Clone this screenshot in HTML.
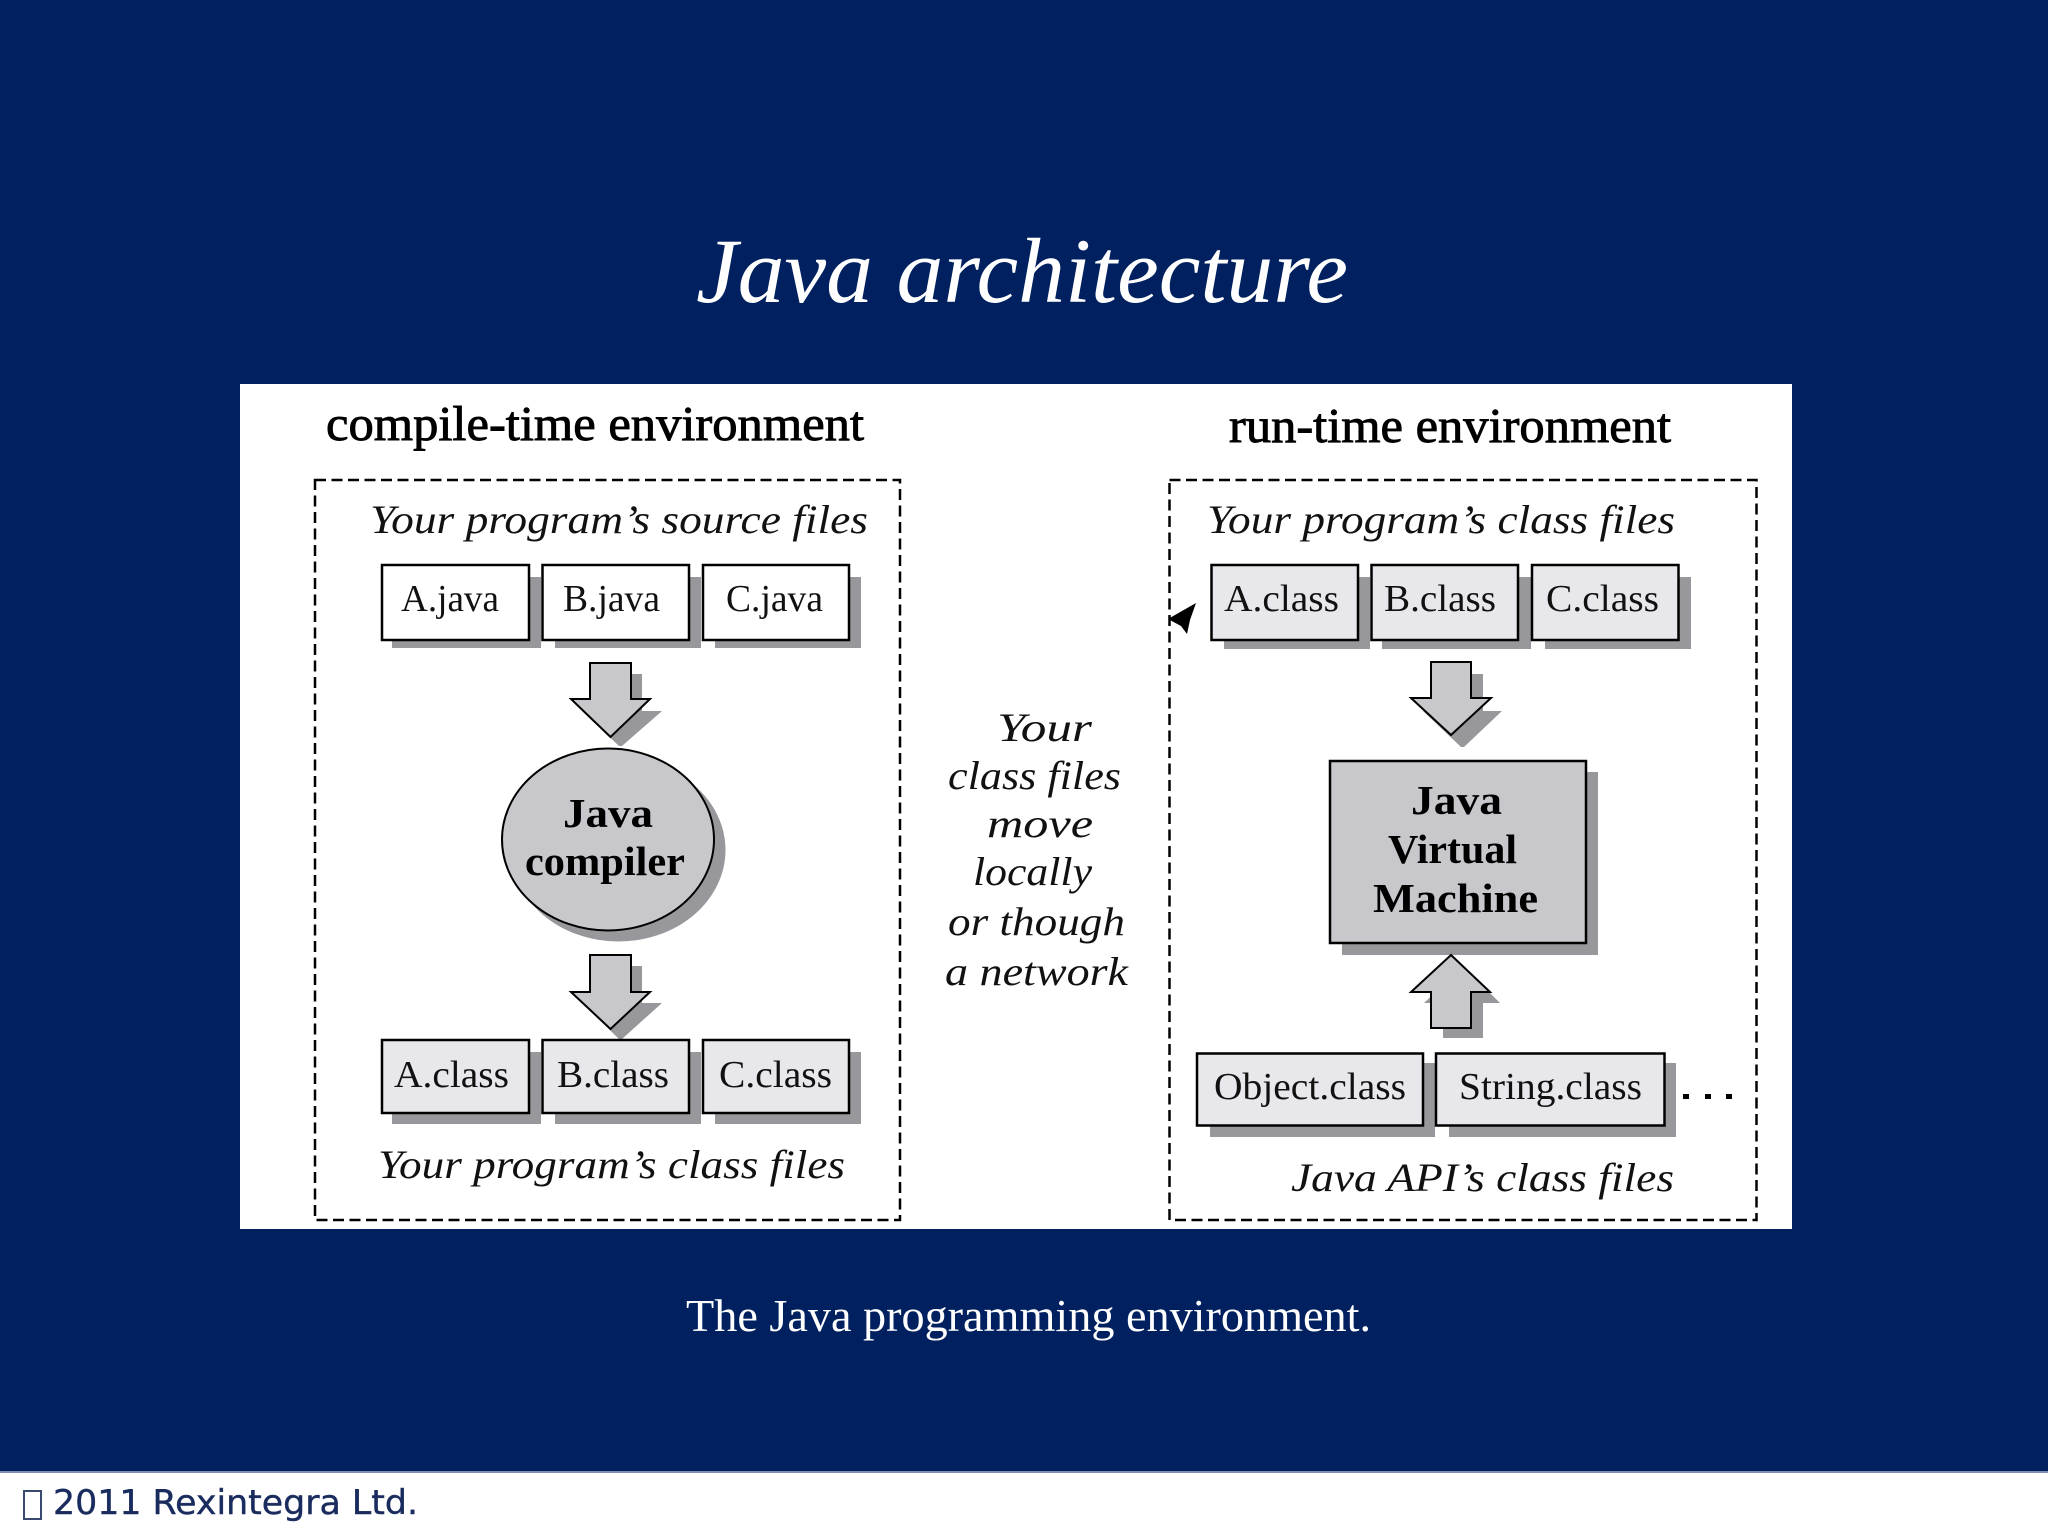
<!DOCTYPE html>
<html>
<head>
<meta charset="utf-8">
<title>Java architecture</title>
<style>
html,body{margin:0;padding:0;background:#012060;width:2048px;height:1536px;overflow:hidden}
svg{display:block}
.s{font-family:"Liberation Serif",serif}
.i{font-family:"Liberation Serif",serif;font-style:italic;font-size:40px;fill:#111}
.b{font-family:"Liberation Serif",serif;font-size:38px;fill:#111}
.h{font-family:"Liberation Serif",serif;font-size:49px;fill:#000;stroke:#000;stroke-width:.9px}
.l{font-family:"Liberation Serif",serif;font-weight:bold;font-size:41px;fill:#000}
</style>
</head>
<body>
<svg width="2048" height="1536" viewBox="0 0 2048 1536" xmlns="http://www.w3.org/2000/svg">
<rect width="2048" height="1536" fill="#012060"/>
<text x="696" y="302" class="s" font-style="italic" font-size="92" fill="#fff" textLength="652" lengthAdjust="spacingAndGlyphs">Java architecture</text>

<rect x="240" y="384" width="1552" height="845" fill="#fff"/>

<text x="326" y="440" class="h" textLength="538" lengthAdjust="spacingAndGlyphs">compile-time environment</text>
<text x="1229" y="442" class="h" textLength="442" lengthAdjust="spacingAndGlyphs">run-time environment</text>

<rect x="315" y="480" width="585" height="740" fill="none" stroke="#000" stroke-width="2.500" stroke-dasharray="11 5.5"/>
<rect x="1169.500" y="480" width="587" height="740" fill="none" stroke="#000" stroke-width="2.500" stroke-dasharray="11 5.5"/>

<text x="370" y="533" class="i" textLength="498" lengthAdjust="spacingAndGlyphs">Your program’s source files</text>
<text x="1207" y="533" class="i" textLength="468" lengthAdjust="spacingAndGlyphs">Your program’s class files</text>
<text x="378" y="1178" class="i" textLength="467" lengthAdjust="spacingAndGlyphs">Your program’s class files</text>
<text x="1291" y="1191" class="i" textLength="383" lengthAdjust="spacingAndGlyphs">Java API’s class files</text>

<!-- shadows -->
<g fill="#98979b">
<rect x="392" y="577" width="149" height="71"/>
<rect x="555" y="577" width="146" height="71"/>
<rect x="715" y="577" width="146" height="71"/>
<polygon points="601,674 642,674 642,711 662,711 622,746 619,746 582,711 601,711"/>
<ellipse cx="618.500" cy="850" rx="107" ry="91.500"/>
<polygon points="601,966 642,966 642,1003 662,1003 622,1039 619,1039 582,1003 601,1003"/>
<rect x="392" y="1052" width="149" height="72"/>
<rect x="555" y="1052" width="146" height="72"/>
<rect x="715" y="1052" width="146" height="72"/>
<rect x="1224" y="577" width="146" height="72"/>
<rect x="1382" y="577" width="149" height="72"/>
<rect x="1545" y="577" width="146" height="72"/>
<polygon points="1442,674 1483,674 1483,711 1502,711 1464,747 1461,747 1423,711 1442,711"/>
<rect x="1342" y="772" width="256" height="183"/>
<polygon points="1463,966 1500,1003 1483,1003 1483,1038 1443,1038 1443,1003 1424,1003"/>
<rect x="1210" y="1063" width="225" height="74"/>
<rect x="1449" y="1063" width="227" height="74"/>
</g>

<!-- source boxes -->
<g fill="#fff" stroke="#000" stroke-width="2.500">
<rect x="382" y="565" width="147" height="75"/>
<rect x="542.500" y="565" width="146.500" height="75"/>
<rect x="703" y="565" width="146" height="75"/>
</g>
<text x="401" y="611" class="b" textLength="98" lengthAdjust="spacingAndGlyphs">A.java</text>
<text x="563" y="611" class="b" textLength="97" lengthAdjust="spacingAndGlyphs">B.java</text>
<text x="726" y="611" class="b" textLength="97" lengthAdjust="spacingAndGlyphs">C.java</text>

<!-- compile arrows and compiler -->
<g fill="#c8c7cc" stroke="#000" stroke-width="2">
<polygon points="590,663 631,663 631,699 650,699 610.500,737 571,699 590,699"/>
<ellipse cx="608" cy="839.500" rx="106" ry="91"/>
<polygon points="590,955 631,955 631,992 650,992 610.500,1029 571,992 590,992"/>
</g>
<text x="563" y="827" class="l" textLength="90" lengthAdjust="spacingAndGlyphs">Java</text>
<text x="525" y="875" class="l" textLength="160" lengthAdjust="spacingAndGlyphs">compiler</text>

<!-- class boxes -->
<g fill="#e8e7ec" stroke="#000" stroke-width="2.500">
<rect x="382" y="1040" width="147" height="73"/>
<rect x="542.500" y="1040" width="146.500" height="73"/>
<rect x="703" y="1040" width="146" height="73"/>
<rect x="1211.500" y="565" width="146.500" height="75"/>
<rect x="1371.500" y="565" width="146.500" height="75"/>
<rect x="1532" y="565" width="146.500" height="75"/>
<rect x="1197" y="1053.500" width="226" height="72"/>
<rect x="1436" y="1053.500" width="228.500" height="72"/>
</g>
<text x="394" y="1087" class="b" textLength="115" lengthAdjust="spacingAndGlyphs">A.class</text>
<text x="557" y="1087" class="b" textLength="112" lengthAdjust="spacingAndGlyphs">B.class</text>
<text x="719" y="1087" class="b" textLength="113" lengthAdjust="spacingAndGlyphs">C.class</text>
<text x="1224" y="611" class="b" textLength="115" lengthAdjust="spacingAndGlyphs">A.class</text>
<text x="1384" y="611" class="b" textLength="112" lengthAdjust="spacingAndGlyphs">B.class</text>
<text x="1546" y="611" class="b" textLength="113" lengthAdjust="spacingAndGlyphs">C.class</text>
<text x="1214" y="1099" class="b" textLength="192" lengthAdjust="spacingAndGlyphs">Object.class</text>
<text x="1459" y="1099" class="b" textLength="183" lengthAdjust="spacingAndGlyphs">String.class</text>
<g fill="#000">
<rect x="1683" y="1094" width="6" height="5"/>
<rect x="1705" y="1094" width="6" height="5"/>
<rect x="1726" y="1094" width="6" height="5"/>
</g>

<!-- cursor -->
<polygon points="1168,619 1196,603 1190,620 1187,634 1181,626" fill="#000"/>

<!-- JVM -->
<g fill="#c8c7cc" stroke="#000" stroke-width="2">
<polygon points="1431,662 1471,662 1471,698 1491,698 1451,735 1411,698 1431,698"/>
<polygon points="1451,955 1490,992 1471,992 1471,1028 1431,1028 1431,992 1411,992"/>
</g>
<rect x="1330" y="761" width="256" height="182" fill="#c8c7cc" stroke="#000" stroke-width="2.500"/>
<text x="1411" y="814" class="l" textLength="91" lengthAdjust="spacingAndGlyphs">Java</text>
<text x="1388" y="863" class="l" textLength="129" lengthAdjust="spacingAndGlyphs">Virtual</text>
<text x="1373" y="912" class="l" textLength="165" lengthAdjust="spacingAndGlyphs">Machine</text>

<!-- middle -->
<text x="997" y="741" class="i" textLength="95" lengthAdjust="spacingAndGlyphs">Your</text>
<text x="948" y="789" class="i" textLength="173" lengthAdjust="spacingAndGlyphs">class files</text>
<text x="987" y="837" class="i" textLength="106" lengthAdjust="spacingAndGlyphs">move</text>
<text x="973" y="885" class="i" textLength="119" lengthAdjust="spacingAndGlyphs">locally</text>
<text x="948" y="935" class="i" textLength="177" lengthAdjust="spacingAndGlyphs">or though</text>
<text x="945" y="985" class="i" textLength="183" lengthAdjust="spacingAndGlyphs">a network</text>

<text x="686" y="1331" class="s" font-size="46" fill="#fff" textLength="685" lengthAdjust="spacingAndGlyphs">The Java programming environment.</text>

<!-- footer -->
<rect x="0" y="1472" width="2048" height="64" fill="#fff"/>
<rect x="0" y="1471" width="2048" height="2" fill="#7f8db0"/>
<rect x="24" y="1491" width="17" height="28" fill="none" stroke="#3a4a6e" stroke-width="2"/>
<text x="53" y="1514" font-family="'DejaVu Sans',sans-serif" font-size="34" fill="#1a2c5e" stroke="#1a2c5e" stroke-width=".4" textLength="365" lengthAdjust="spacingAndGlyphs">2011 Rexintegra Ltd.</text>
</svg>
</body>
</html>
